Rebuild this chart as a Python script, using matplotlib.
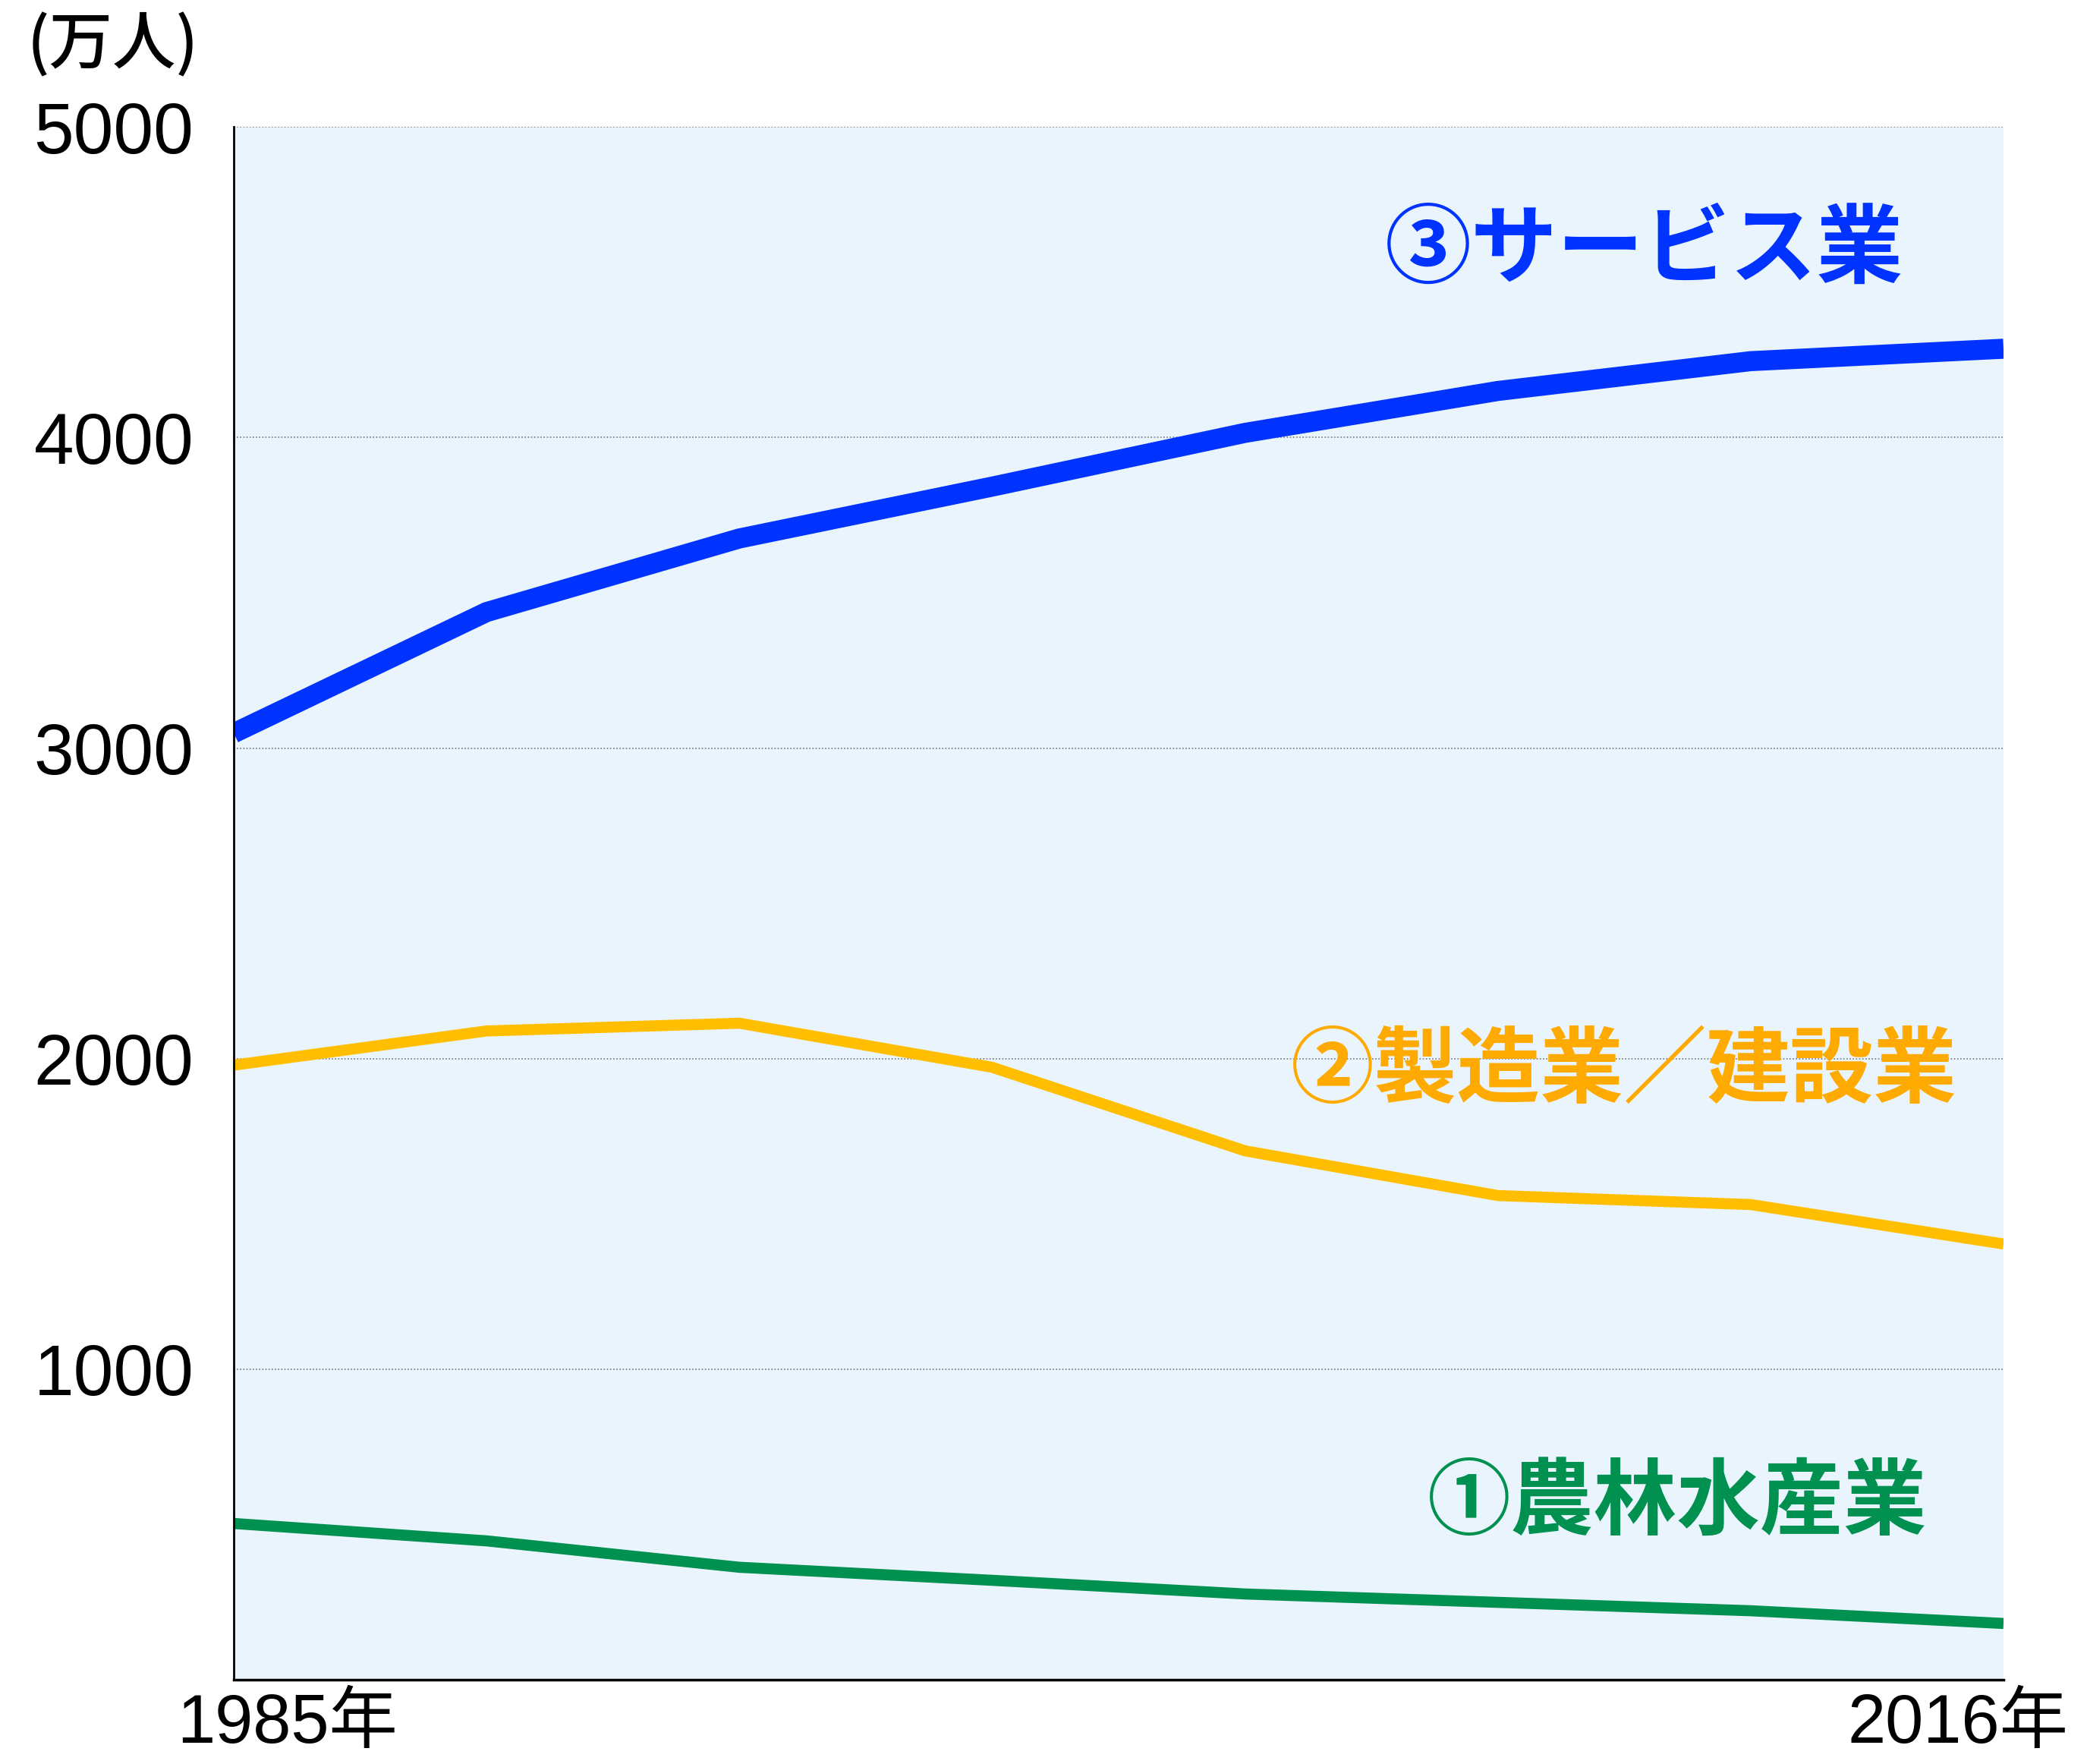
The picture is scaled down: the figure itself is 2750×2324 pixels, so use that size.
import matplotlib
matplotlib.use("Agg")
from matplotlib import pyplot as plt
from matplotlib import transforms

plt.rcParams['font.family'] = ['Noto Sans CJK JP', 'DejaVu Sans']
NUM_FONT = ['Liberation Sans', 'Noto Sans CJK JP']

# 8 survey points, 1985 .. 2016 (only the ends are labelled)
points = list(range(8))
x_labels = ['1985年', '2016年']

service = [3048, 3438, 3675, 3842, 4015, 4150, 4246, 4286]
manufacturing = [1979, 2089, 2114, 1972, 1703, 1559, 1530, 1403]
agriculture = [503, 447, 362, 320, 276, 249, 222, 181]

y_ticks = [1000, 2000, 3000, 4000, 5000]

fig = plt.figure(figsize=(27.5, 23.24), dpi=100)
ax = fig.add_axes([0.112, 0.0478, 0.848, 0.8802])
ax.set_facecolor('#EAF4FD')

ax.plot(points, service, color='#0033FF', lw=19,
        solid_capstyle='butt', solid_joinstyle='miter')
ax.plot(points, manufacturing, color='#FFBF00', lw=10.5,
        solid_capstyle='butt', solid_joinstyle='miter')
ax.plot(points, agriculture, color='#00904F', lw=10.5,
        solid_capstyle='butt', solid_joinstyle='miter')

ax.set_xlim(0, 7)
ax.set_ylim(0, 5000)

ax.set_yticks(y_ticks)
ax.set_yticklabels([str(v) for v in y_ticks], family=NUM_FONT, fontsize=68)
ax.yaxis.grid(True, linestyle=(0, (1, 1.5)), color='#777777', lw=1.2)
ax.set_axisbelow(True)

ax.set_xticks([0, 7])
ax.set_xticklabels(x_labels, family=NUM_FONT, fontsize=65)
ax.tick_params(axis='both', length=0)
ax.tick_params(axis='y', pad=38)
ax.tick_params(axis='x', pad=12)

# nudge the year labels inward like the original
shifts = [0.7, -0.6]
for lab, dx in zip(ax.get_xticklabels(), shifts):
    lab.set_transform(lab.get_transform() +
                      transforms.ScaledTranslation(dx, 0, fig.dpi_scale_trans))

for side in ['top', 'right']:
    ax.spines[side].set_visible(False)
ax.spines['left'].set_linewidth(2)
ax.spines['bottom'].set_linewidth(2.5)

fig.text(0.013, 0.974, '(万人)', fontsize=60, va='center', ha='left',
         fontweight='medium')

ax.text(5.58, 4600, '③サービス業', color='#0033FF', fontsize=82,
        fontweight='bold', ha='center', va='center')
ax.text(5.50, 1957, '②製造業／建設業', color='#FFAA00', fontsize=79,
        fontweight='bold', ha='center', va='center')
ax.text(5.71, 565, '①農林水産業', color='#00904F', fontsize=79,
        fontweight='bold', ha='center', va='center')

plt.savefig('out.png', dpi=100)
